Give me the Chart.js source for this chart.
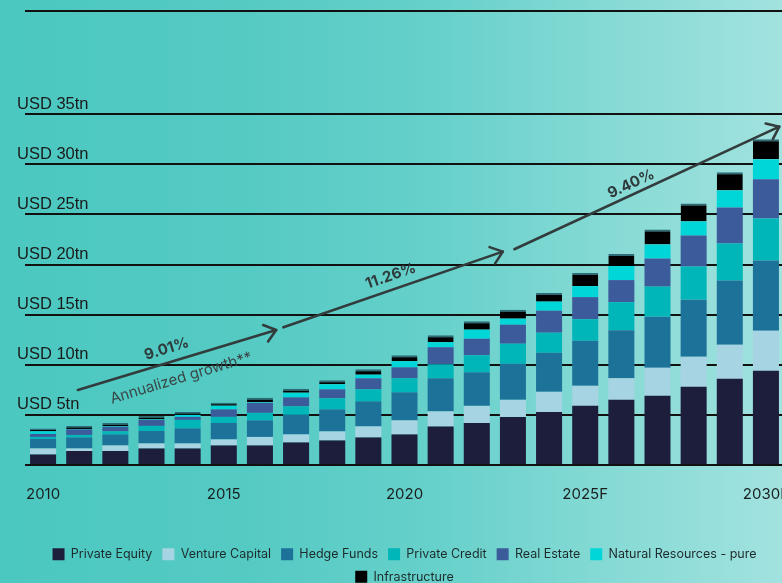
<!DOCTYPE html>
<html>
<head>
<meta charset="utf-8">
<script src="https://cdn.jsdelivr.net/npm/chart.js@4/dist/chart.umd.min.js"></script>
<style>
html,body{margin:0;padding:0;width:782px;height:583px;overflow:hidden;}
body{background:linear-gradient(to right,#4bc8c0 0%,#54cac3 30%,#66d0ca 55%,#86dad5 78%,#a2e2df 100%);}
#wrap{position:absolute;left:0;top:0;width:810px;height:593px;}
</style>
</head>
<body>
<div id="wrap"><canvas id="c" width="810" height="593"></canvas></div>
<script>
// ---- data (USD trillion) ----
const categories = ['2010','2011','2012','2013','2014','2015','2016','2017','2018','2019','2020','2021','2022','2023','2024','2025F','2026F','2027F','2028F','2029F','2030F'];
const xTickLabels = ['2010','2015','2020','2025F','2030F'];
const yTickValues = [0,5,10,15,20,25,30,35,45.3];
const yTickLabels = ['','USD 5tn','USD 10tn','USD 15tn','USD 20tn','USD 25tn','USD 30tn','USD 35tn',''];

const privateEquity    = [1.05,1.4,1.4,1.65,1.65,1.95,1.95,2.25,2.45,2.75,3.05,3.85,4.2,4.8,5.3,5.9,6.5,6.9,7.8,8.6,9.4];
const ventureCapital   = [0.6,0.25,0.55,0.5,0.5,0.6,0.85,0.8,0.9,1.1,1.4,1.5,1.7,1.7,2.0,2.0,2.15,2.8,3.0,3.4,4.0];
const hedgeFunds       = [0.95,1.1,1.1,1.25,1.5,1.65,1.65,1.95,2.2,2.5,2.8,3.3,3.35,3.6,3.9,4.5,4.8,5.1,5.7,6.4,7.0];
const privateCredit    = [0.2,0.25,0.3,0.5,0.85,0.6,0.75,0.85,1.1,1.2,1.4,1.4,1.7,2.0,2.0,2.15,2.8,3.0,3.3,3.7,4.2];
const realEstate       = [0.3,0.55,0.45,0.6,0.3,0.75,1.0,0.9,0.9,1.1,1.1,1.7,1.65,1.9,2.2,2.2,2.2,2.8,3.1,3.6,3.9];
const naturalResources = [0.25,0.05,0.05,0.05,0.2,0.35,0.05,0.45,0.5,0.35,0.6,0.5,0.9,0.6,0.9,1.1,1.4,1.4,1.4,1.7,2.0];
const infrastructure   = [0.3,0.3,0.35,0.35,0.3,0.3,0.45,0.4,0.4,0.55,0.6,0.7,0.85,0.9,0.85,1.3,1.2,1.5,1.8,1.8,2.0];

// growth annotations: [category index, value] start -> end
const growthArrows = [
  [0.963, 7.49, 6.45, 13.47],
  [6.65, 13.74, 12.72, 21.29],
  [13.04, 21.53, 20.37, 33.76]
];
const growthLabels = [
  {text:'9.01%', x:3.42, y:11.58, arrow:0, bold:true},
  {text:'Annualized growth**', x:3.82, y:8.68, arrow:0, bold:false},
  {text:'11.26%', x:9.62, y:18.86, arrow:1, bold:true},
  {text:'9.40%', x:16.27, y:28.05, arrow:2, bold:true}
];

const arrowPlugin = {
  id: 'growthArrows',
  afterDatasetsDraw(chart) {
    const {ctx, scales: {x, y}} = chart;
    ctx.save();
    ctx.strokeStyle = '#333c3d';
    ctx.lineWidth = 2.6;
    ctx.lineCap = 'round';
    ctx.lineJoin = 'round';
    const angles = [];
    growthArrows.forEach(a => {
      const x1 = x.getPixelForValue(a[0]), y1 = y.getPixelForValue(a[1]);
      const x2 = x.getPixelForValue(a[2]), y2 = y.getPixelForValue(a[3]);
      const ang = Math.atan2(y2 - y1, x2 - x1);
      angles.push(ang);
      ctx.beginPath();
      ctx.moveTo(x1, y1); ctx.lineTo(x2, y2);
      ctx.stroke();
      const L = 14, sp = 0.66;
      ctx.beginPath();
      ctx.moveTo(x2 - L * Math.cos(ang - sp), y2 - L * Math.sin(ang - sp));
      ctx.lineTo(x2, y2);
      ctx.lineTo(x2 - L * Math.cos(ang + sp), y2 - L * Math.sin(ang + sp));
      ctx.stroke();
    });
    growthLabels.forEach(l => {
      const px = x.getPixelForValue(l.x), py = y.getPixelForValue(l.y);
      ctx.save();
      ctx.translate(px, py);
      ctx.rotate(angles[l.arrow]);
      ctx.fillStyle = l.bold ? '#2f3a3b' : '#3a4747';
      ctx.font = (l.bold ? '700 15px ' : '400 15px ') + 'Inter, "Noto Sans", sans-serif';
      ctx.textAlign = 'center';
      ctx.textBaseline = 'middle';
      ctx.fillText(l.text, 0, 0);
      ctx.restore();
    });
    ctx.restore();
  }
};

const series = [
  ['Private Equity', privateEquity, '#1c1e3c'],
  ['Venture Capital', ventureCapital, '#a7d4e2'],
  ['Hedge Funds', hedgeFunds, '#1c7299'],
  ['Private Credit', privateCredit, '#00b6b8'],
  ['Real Estate', realEstate, '#3c5b9b'],
  ['Natural Resources - pure', naturalResources, '#00d5d8'],
  ['Infrastructure', infrastructure, '#000000']
];

new Chart(document.getElementById('c'), {
  type: 'bar',
  data: {
    labels: categories,
    datasets: series.map(([label, data, color], i) => ({
      label, data,
      backgroundColor: color,
      borderColor: i === series.length - 1 ? '#2d6b76' : color,
      borderWidth: i === series.length - 1 ? {top: 2, left: 0, right: 0, bottom: 0} : 0,
      borderSkipped: false,
      barPercentage: 0.72,
      categoryPercentage: 1
    }))
  },
  options: {
    responsive: false,
    animation: false,
    devicePixelRatio: 1,
    layout: {padding: {left: 25, top: 11, right: 26, bottom: 0}},
    plugins: {
      tooltip: {enabled: false},
      legend: {
        position: 'bottom',
        labels: {
          boxWidth: 12, boxHeight: 12, padding: 10,
          color: '#1d2b2c',
          font: {family: 'Inter, Roboto, sans-serif', size: 12.5},
          generateLabels(chart) {
            const items = Chart.defaults.plugins.legend.labels.generateLabels(chart);
            items.forEach(it => { it.strokeStyle = it.fillStyle; it.lineWidth = 0; });
            return items;
          }
        }
      }
    },
    scales: {
      x: {
        stacked: true,
        grid: {display: false},
        border: {display: false},
        afterFit(scale) { scale.height = 73; },
        ticks: {
          autoSkip: false, maxRotation: 0, minRotation: 0, padding: 12,
          color: '#1a1f20',
          font: {family: 'Inter, sans-serif', size: 15},
          callback: (v, i) => xTickLabels.includes(categories[i]) ? categories[i] : ''
        }
      },
      y: {
        stacked: true,
        min: 0, max: 45.3,
        border: {display: false},
        grid: {color: '#111111', lineWidth: 2, drawTicks: false},
        afterBuildTicks(scale) { scale.ticks = yTickValues.map(v => ({value: v})); },
        afterFit(scale) { scale.width = 0; },
        ticks: {
          mirror: true, padding: -8, labelOffset: -10,
          color: '#1a1a1a',
          font: {family: '"Liberation Sans", Arial, sans-serif', size: 16.5},
          callback: (v, i) => yTickLabels[i]
        }
      }
    }
  },
  plugins: [arrowPlugin]
});
</script>
</body>
</html>
